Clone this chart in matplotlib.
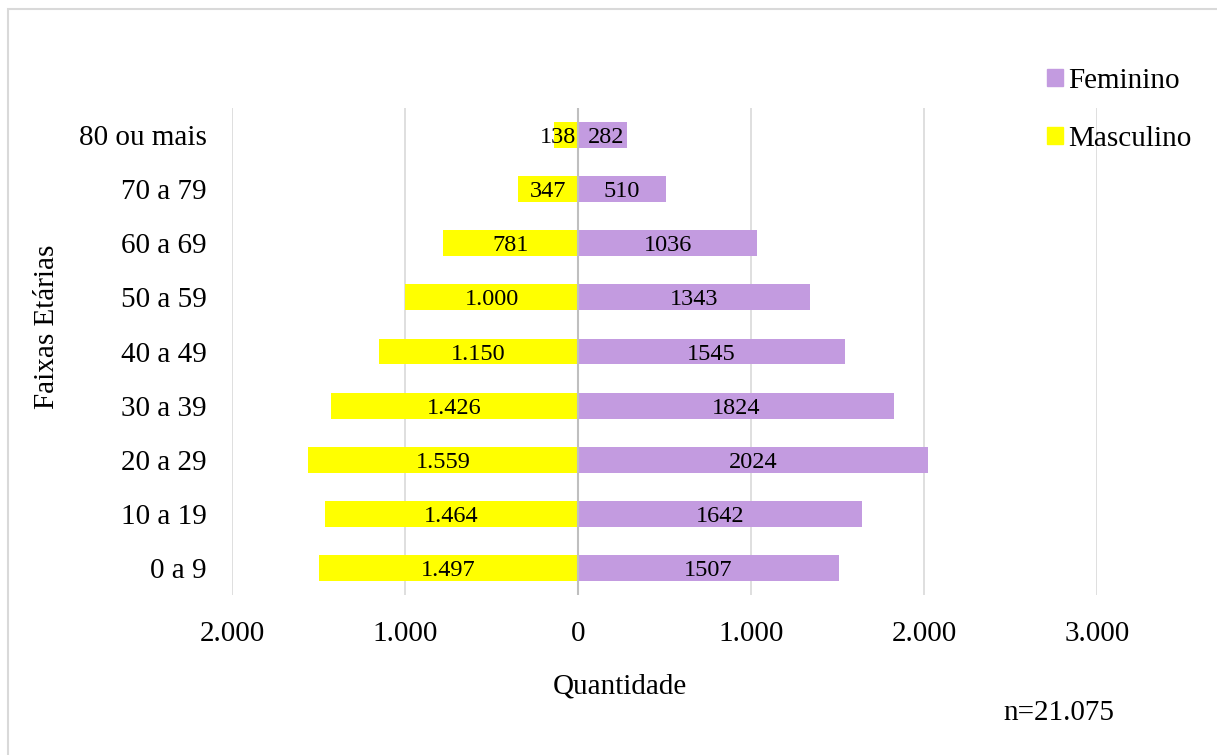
import matplotlib.pyplot as plt
from matplotlib.patches import Rectangle, Patch
from matplotlib.ticker import FuncFormatter

faixas = ['0 a 9', '10 a 19', '20 a 29', '30 a 39', '40 a 49',
          '50 a 59', '60 a 69', '70 a 79', '80 ou mais']
masculino = [1497, 1464, 1559, 1426, 1150, 1000, 781, 347, 138]
feminino = [1507, 1642, 2024, 1824, 1545, 1343, 1036, 510, 282]
total = 21075

cor_fem = '#C39BE0'
cor_masc = '#FFFF00'


def milhar(v):
    # separador de milhar com ponto
    return f'{int(round(abs(v))):,}'.replace(',', '.')


plt.rcParams['font.family'] = ['Liberation Serif', 'DejaVu Serif']
plt.rcParams['font.size'] = 21

fig = plt.figure(figsize=(12.17, 7.55), dpi=100)
ax = fig.add_axes([232 / 1217, 1 - 595 / 755, (1097 - 232) / 1217, (595 - 108) / 755])

y = list(range(len(faixas)))
masc_neg = [-v for v in masculino]
b_masc = ax.barh(y, masc_neg, height=0.48, color=cor_masc, zorder=2)
b_fem = ax.barh(y, feminino, height=0.48, color=cor_fem, zorder=2)

rot_m = ax.bar_label(b_masc, labels=[milhar(v) for v in masculino],
                     label_type='center', fontsize=17.5, zorder=4)
rot_f = ax.bar_label(b_fem, labels=[str(v) for v in feminino],
                     label_type='center', fontsize=17.5, zorder=4)
for t in rot_m + rot_f:
    t.set_va('center_baseline')

# barras curtas do topo: afasta os rótulos para não se sobreporem
rot_m[-1].set_position((-6, 0))
rot_f[-1].set_position((3, 0))

ax.set_xlim(-2000, 3000)
ax.set_ylim(-0.5, len(faixas) - 0.5)
ax.set_xticks([-2000, -1000, 0, 1000, 2000, 3000])
ax.xaxis.set_major_formatter(FuncFormatter(lambda v, p: milhar(v)))
ax.set_yticks(y)
ax.set_yticklabels(faixas)
ax.tick_params(axis='both', length=0)
ax.tick_params(axis='x', pad=19)
ax.tick_params(axis='y', pad=18)

ax.grid(axis='x', color='#D9D9D9', linewidth=1.2, zorder=0)
ax.axvline(0, color='#BFBFBF', linewidth=1.5, zorder=3)
for s in ax.spines.values():
    s.set_visible(False)

fig.text(620 / 1217, 1 - 686 / 755, 'Quantidade',
         ha='center', va='center', fontsize=21)
fig.text(47 / 1217, 1 - 327 / 755, 'Faixas Etárias', rotation=90,
         ha='center', va='center', fontsize=21)
fig.text(1059 / 1217, 1 - 713 / 755, f'n={milhar(total)}',
         ha='center', va='center', fontsize=21)

handles = [Patch(color=cor_fem, label='Feminino'),
           Patch(color=cor_masc, label='Masculino')]
fig.legend(handles=handles, loc='upper left',
           bbox_to_anchor=(1035 / 1217, 1 - 56 / 755), frameon=False,
           handlelength=0.55, handleheight=0.55, handletextpad=0.2,
           labelspacing=1.1, fontsize=21, borderaxespad=0)

# moldura da figura
fig.add_artist(Rectangle((8 / 1217, -0.1), 1.2, 1 - 9 / 755 + 0.1,
                         transform=fig.transFigure, fill=False,
                         edgecolor='#D9D9D9', linewidth=1.5))

plt.savefig('out.png', dpi=100)
